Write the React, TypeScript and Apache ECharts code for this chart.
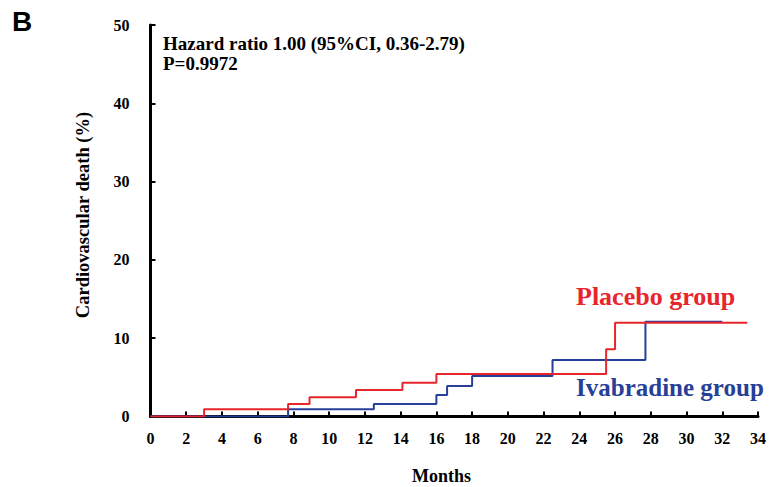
import React, { useEffect, useRef } from "react";
import * as echarts from "echarts";

const xTicks = [0, 2, 4, 6, 8, 10, 12, 14, 16, 18, 20, 22, 24, 26, 28, 30, 32, 34];
const yTicks = [0, 10, 20, 30, 40, 50];

// Kaplan-Meier style cumulative incidence (%), [month, value]
const placeboMonths = [0, 3.0, 7.7, 8.9, 11.5, 14.1, 16.0, 25.5, 26.0, 33.4];
const placeboValues = [0, 0.92, 1.6, 2.45, 3.38, 4.32, 5.43, 8.58, 11.98, 11.98];
const ivabradineMonths = [0, 7.7, 12.5, 16.0, 16.6, 18.0, 22.5, 27.7, 32.0];
const ivabradineValues = [0, 0.92, 1.6, 2.75, 3.9, 5.17, 7.22, 12.1, 12.1];

const annotationLines = ["Hazard ratio 1.00 (95%CI, 0.36-2.79)", "P=0.9972"];
const placeboLabel = "Placebo group";
const ivabradineLabel = "Ivabradine group";
const panelLabel = "B";
const xName = "Months";
const yName = "Cardiovascular death (%)";

const RED = "#e8252b";
const BLUE = "#283f97";
const FONT = "'Liberation Serif', 'Times New Roman', serif";

export default function App() {
  const ref = useRef<HTMLDivElement>(null);
  useEffect(() => {
    if (!ref.current) return;
    const chart = echarts.init(ref.current, undefined, { renderer: "svg" });
    const pData = placeboMonths.map((m, i) => [m, placeboValues[i]]);
    const iData = ivabradineMonths.map((m, i) => [m, ivabradineValues[i]]);
    chart.setOption({
      animation: false,
      backgroundColor: "#ffffff",
      grid: { left: 150.5, right: 6, top: 25, bottom: 70.5, containLabel: false },
      xAxis: {
        type: "value",
        min: 0,
        max: 34,
        interval: 2,
        axisLine: { show: true, onZero: false, lineStyle: { color: "#000", width: 3 } },
        axisTick: { show: true, inside: true, length: 5, lineStyle: { color: "#000", width: 2 } },
        axisLabel: {
          color: "#000",
          fontFamily: FONT,
          fontWeight: "bold",
          fontSize: 16,
          margin: 14,
          formatter: (v: number) => (xTicks.includes(v) ? String(v) : ""),
        },
        splitLine: { show: false },
      },
      yAxis: {
        type: "value",
        min: 0,
        max: 50,
        interval: 10,
        axisLine: { show: true, onZero: false, lineStyle: { color: "#000", width: 3 } },
        axisTick: { show: true, inside: true, length: 5, lineStyle: { color: "#000", width: 2 } },
        axisLabel: {
          color: "#000",
          fontFamily: FONT,
          fontWeight: "bold",
          fontSize: 16,
          margin: 21,
          formatter: (v: number) => (yTicks.includes(v) ? String(v) : ""),
        },
        splitLine: { show: false },
      },
      series: [
        {
          name: ivabradineLabel,
          type: "line",
          step: "end",
          data: iData,
          symbol: "none",
          lineStyle: { color: BLUE, width: 2 },
          z: 3,
        },
        {
          name: placeboLabel,
          type: "line",
          step: "end",
          data: pData,
          symbol: "none",
          lineStyle: { color: RED, width: 2 },
          z: 4,
        },
      ],
      graphic: [
        {
          type: "text",
          left: 12,
          top: 7,
          style: { text: panelLabel, fill: "#000", font: "bold 28px 'Liberation Sans', Arial, sans-serif" },
        },
        {
          type: "text",
          left: 163,
          top: 33,
          style: {
            text: annotationLines.join("\n"),
            fill: "#000",
            font: `bold 19px ${FONT}`,
            lineHeight: 20,
          },
        },
        {
          type: "text",
          left: 576,
          top: 283,
          style: { text: placeboLabel, fill: RED, font: `bold 26px ${FONT}` },
        },
        {
          type: "text",
          left: 576,
          top: 375,
          style: { text: ivabradineLabel, fill: BLUE, font: `bold 25px ${FONT}` },
        },
        {
          type: "text",
          left: 412,
          top: 467,
          style: { text: xName, fill: "#000", font: `bold 18px ${FONT}` },
        },
        {
          type: "text",
          x: 83,
          y: 215,
          rotation: Math.PI / 2,
          style: {
            text: yName,
            fill: "#000",
            font: `bold 18.5px ${FONT}`,
            align: "center",
            verticalAlign: "middle",
          },
        },
      ],
    });
    return () => chart.dispose();
  }, []);
  return <div ref={ref} style={{ width: 769, height: 487, position: "absolute", left: 0, top: 0 }} />;
}
